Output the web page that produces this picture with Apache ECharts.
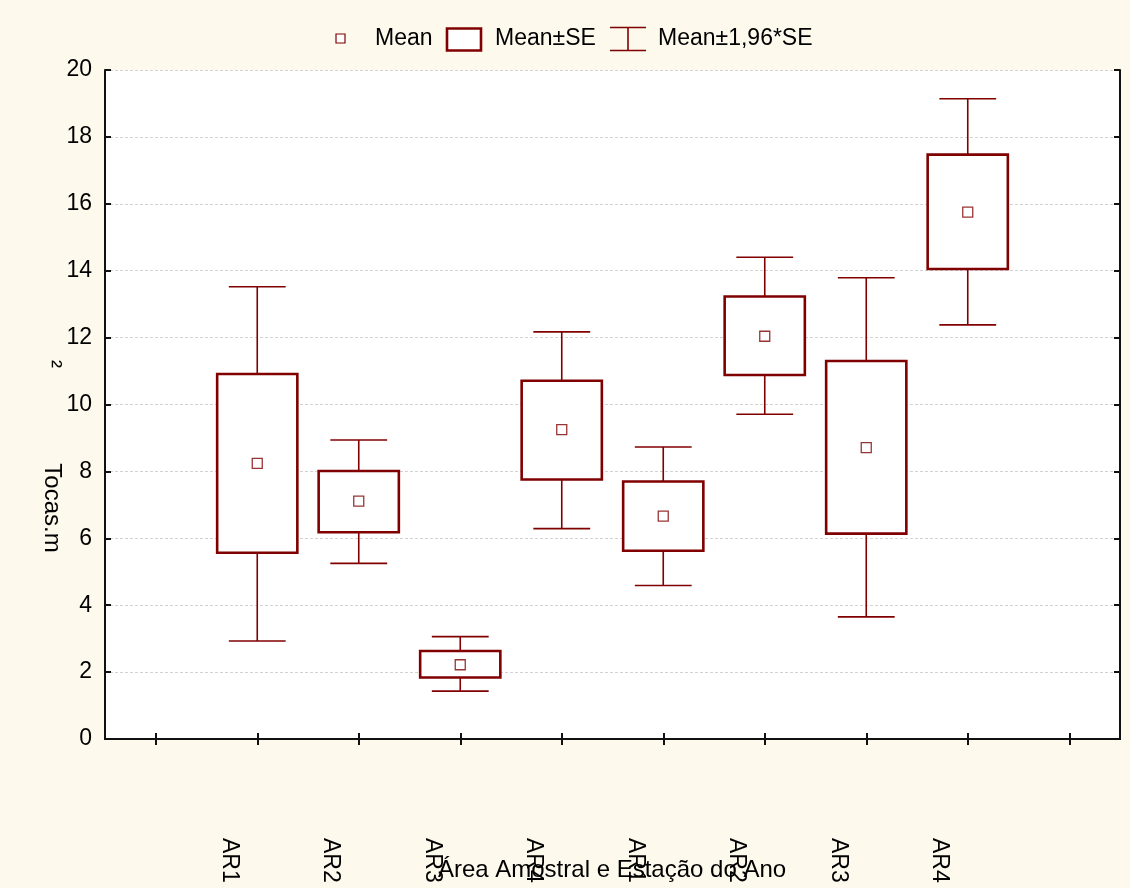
<!DOCTYPE html>
<html>
<head>
<meta charset="utf-8">
<script src="https://cdn.jsdelivr.net/npm/echarts@6/dist/echarts.min.js"></script>
<style>
  html, body { margin: 0; padding: 0; background: #fdf9ed; }
  #chart { width: 1130px; height: 888px; }
</style>
</head>
<body>
<div id="chart"></div>
<script>
// Sampling groups (area x season), in plotting order
const groups = ['AR1', 'AR2', 'AR3', 'AR4', 'AR1', 'AR2', 'AR3', 'AR4'];
// Empty slots at both ends leave room around the boxes
const categories = [''].concat(groups, ['']);

// Burrow density (Tocas.m²) per group
const mean   = [8.24, 7.11, 2.22, 9.25, 6.66, 12.04, 8.71, 15.75];
const seLow  = [5.57, 6.18, 1.84, 7.76, 5.63, 10.88, 6.14, 14.05];
const seHigh = [10.91, 8.01, 2.63, 10.71, 7.70, 13.23, 11.30, 17.47];
const ciLow  = [2.93, 5.25, 1.43, 6.29, 4.59, 9.71, 3.65, 12.38];
const ciHigh = [13.52, 8.94, 3.06, 12.17, 8.73, 14.40, 13.79, 19.14];

const yTicks = { min: 0, max: 20, step: 2 };

const RED = '#800000';
const FONT_FAMILY = '"Liberation Sans", Arial, Helvetica, sans-serif';
const FONT = '23px ' + FONT_FAMILY;
const TITLE_FONT = '24px ' + FONT_FAMILY;

const chart = echarts.init(document.getElementById('chart'));

const boxData = groups.map((g, i) => [i + 1, ciLow[i], seLow[i], seHigh[i], ciHigh[i]]);
const meanData = groups.map((g, i) => [i + 1, mean[i]]);

function renderBox(params, api) {
  const x = api.value(0);
  const lo95 = api.coord([x, api.value(1)]);
  const loSE = api.coord([x, api.value(2)]);
  const hiSE = api.coord([x, api.value(3)]);
  const hi95 = api.coord([x, api.value(4)]);
  const band = api.size([1, 0])[0];
  const bw = band * 0.79;
  const cw = band * 0.56;
  const cx = lo95[0];
  const whisker = { stroke: RED, lineWidth: 1.6 };
  return {
    type: 'group',
    children: [
      { type: 'line', shape: { x1: cx, y1: hi95[1], x2: cx, y2: lo95[1] }, style: whisker },
      { type: 'line', shape: { x1: cx - cw / 2, y1: hi95[1], x2: cx + cw / 2, y2: hi95[1] }, style: whisker },
      { type: 'line', shape: { x1: cx - cw / 2, y1: lo95[1], x2: cx + cw / 2, y2: lo95[1] }, style: whisker },
      { type: 'rect', shape: { x: cx - bw / 2, y: hiSE[1], width: bw, height: loSE[1] - hiSE[1] },
        style: { fill: '#ffffff', stroke: RED, lineWidth: 2.6 } }
    ]
  };
}

const axisLine = { show: true, lineStyle: { color: '#111', width: 2 } };
const tickStyle = { color: '#111', width: 2 };

// Legend drawn as graphic elements
const legendY = 39;
const legend = [
  { type: 'rect', shape: { x: 336, y: 34, width: 9, height: 9 },
    style: { fill: '#fff', stroke: RED, lineWidth: 1.2 } },
  { type: 'text', x: 375, y: legendY, style: { text: 'Mean', font: FONT, fill: '#000', textVerticalAlign: 'middle' } },
  { type: 'rect', shape: { x: 447, y: 28.5, width: 34, height: 22 },
    style: { fill: '#fff', stroke: RED, lineWidth: 2.6 } },
  { type: 'text', x: 495, y: legendY, style: { text: 'Mean±SE', font: FONT, fill: '#000', textVerticalAlign: 'middle' } },
  { type: 'line', shape: { x1: 610, y1: 27.5, x2: 646, y2: 27.5 }, style: { stroke: RED, lineWidth: 1.6 } },
  { type: 'line', shape: { x1: 610, y1: 50.5, x2: 646, y2: 50.5 }, style: { stroke: RED, lineWidth: 1.6 } },
  { type: 'line', shape: { x1: 628, y1: 27.5, x2: 628, y2: 50.5 }, style: { stroke: RED, lineWidth: 1.6 } },
  { type: 'text', x: 658, y: legendY, style: { text: 'Mean±1,96*SE', font: FONT, fill: '#000', textVerticalAlign: 'middle' } }
];

// Axis titles
const titles = [
  { type: 'text', x: 52, y: 508, rotation: -Math.PI / 2,
    style: { text: 'Tocas.m', font: TITLE_FONT, fill: '#000', textAlign: 'center', textVerticalAlign: 'middle' } },
  { type: 'text', x: 52, y: 364, rotation: -Math.PI / 2,
    style: { text: '²', font: TITLE_FONT, fill: '#000', textAlign: 'center', textVerticalAlign: 'middle' } },
  { type: 'text', x: 612, y: 870,
    style: { text: 'Área Amostral e Estação do Ano', font: TITLE_FONT, fill: '#000', textAlign: 'center', textVerticalAlign: 'middle' } }
];

chart.setOption({
  backgroundColor: '#fdf9ed',
  animation: false,
  grid: { left: 105, right: 10, top: 70, bottom: 149, show: true, backgroundColor: '#ffffff', borderWidth: 0 },
  xAxis: [
    { type: 'category', data: categories, boundaryGap: true, position: 'bottom',
      axisLine: axisLine,
      axisTick: { show: true, inside: true, alignWithLabel: true, interval: 0, length: 6, lineStyle: tickStyle },
      axisLabel: { show: false }, splitLine: { show: false } },
    { type: 'category', data: categories, boundaryGap: true, position: 'top',
      axisLine: axisLine,
      axisTick: { show: true, inside: true, alignWithLabel: true, interval: 0, length: 6, lineStyle: tickStyle },
      axisLabel: { show: false }, splitLine: { show: false } }
  ],
  yAxis: [
    { type: 'value', min: yTicks.min, max: yTicks.max, interval: yTicks.step, position: 'left',
      axisLine: axisLine,
      axisTick: { show: true, inside: true, length: 6, lineStyle: tickStyle },
      axisLabel: { fontSize: 23, fontFamily: FONT_FAMILY, color: '#000', margin: 13 },
      splitLine: { show: true, lineStyle: { type: [3, 2], color: '#d2d2d2', width: 1 } } },
    { type: 'value', min: yTicks.min, max: yTicks.max, interval: yTicks.step, position: 'right',
      axisLine: axisLine,
      axisTick: { show: true, inside: true, length: 6, lineStyle: tickStyle },
      axisLabel: { show: false }, splitLine: { show: false } }
  ],
  series: [
    { name: 'Mean±SE', type: 'custom', xAxisIndex: 0, yAxisIndex: 0, renderItem: renderBox,
      encode: { x: 0, y: [1, 2, 3, 4] }, data: boxData, z: 2 },
    { name: 'Mean', type: 'scatter', xAxisIndex: 0, yAxisIndex: 0, data: meanData,
      symbol: 'rect', symbolSize: 10,
      itemStyle: { color: '#ffffff', borderColor: RED, borderWidth: 1.3 }, z: 3 }
  ],
  graphic: legend.concat(titles)
});

// Rotated category labels, placed from the axis scale
const labelTop = 838;
const labelShift = -28;
const catLabels = groups.map((g, i) => {
  const px = chart.convertToPixel({ xAxisIndex: 0 }, i + 1);
  return { type: 'text', x: px + labelShift, y: labelTop, rotation: -Math.PI / 2,
    style: { text: g, font: FONT, fill: '#000', textAlign: 'left', textVerticalAlign: 'middle' } };
});
chart.setOption({ graphic: legend.concat(titles, catLabels) });
</script>
</body>
</html>
